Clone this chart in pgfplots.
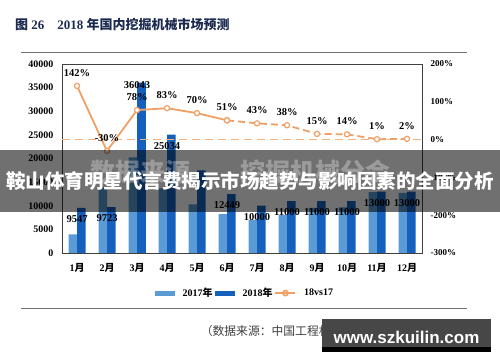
\documentclass[border=0pt]{standalone}
\usepackage{fontspec}
\setmainfont{Liberation Serif}
\newfontfamily\cjk{Noto Sans CJK SC}
\newfontfamily\wsans{Liberation Sans}
\usepackage{pgfplots}
\pgfplotsset{compat=1.18}
\definecolor{c17}{HTML}{5B9BD5}
\definecolor{c18}{HTML}{1560BD}
\definecolor{lor}{HTML}{EFA066}
\definecolor{lor2}{HTML}{F2B27E}
\definecolor{titlec}{HTML}{1C2A4F}
\newcommand{\yue}{{\cjk 月}}
\newcommand{\nian}{{\cjk 年}}
\pgfplotsset{lineleg/.style={legend image code/.code={\draw[##1, mark repeat=2, mark phase=2] plot coordinates {(0bp,0bp) (10bp,0bp) (20bp,0bp)};}}}
\pgfplotstableread{
x y lab
0 9547 9547
1 9723 9723
2 36043 {}
3 25034 25034
4 17500 {}
5 12449 12449
6 10000 10000
7 11000 11000
8 11000 11000
9 11000 11000
10 13000 13000
11 13000 13000
}\dataB
\begin{document}
\begin{tikzpicture}
\useasboundingbox (0bp,0bp) rectangle (500bp,362bp);
\fill[white] (0bp,0bp) rectangle (500bp,362bp);
\node[anchor=west, text=titlec, font=\bfseries\fontsize{13bp}{15bp}\selectfont, inner sep=0pt] at (15bp,337bp) {{\cjk 图} 26\quad 2018 {\cjk 年国内挖掘机械市场预测}};
\draw[black!55, line width=0.8bp] (21bp,309.5bp) -- (467bp,309.5bp);
\draw[black!55, line width=0.8bp] (21bp,54bp) -- (467bp,54bp);
\begin{axis}[
  at={(62bp,109bp)}, anchor=south west,
  scale only axis, width=360bp, height=189bp,
  xmin=-0.5, xmax=11.5, ymin=0, ymax=40000,
  ytick={0,5000,...,40000},
  xtick={0,...,11},
  xticklabels={1\yue,2\yue,3\yue,4\yue,5\yue,6\yue,7\yue,8\yue,9\yue,10\yue,11\yue,12\yue},
  major tick length=0pt,
  axis line style={draw=black!75, line width=0.8bp},
  /pgf/number format/assume math mode=true,
  /pgf/number format/1000 sep={},
  scaled y ticks=false,
  ticklabel style={font=\bfseries\fontsize{10bp}{12bp}\selectfont},
  yticklabel style={xshift=-5bp},
  xticklabel style={anchor=base, yshift=-19bp},
  legend style={at={(0.508,-0.212)}, anchor=center, draw=none, fill=none,
    font=\bfseries\fontsize{10bp}{12bp}\selectfont,
    legend columns=-1,
    /tikz/every even column/.append style={column sep=0bp},
    /tikz/every odd column/.append style={column sep=6bp}},
]
\addplot[ybar, bar width=8.5bp, bar shift=-4.25bp, fill=c17, draw=none,
  legend image code/.code={\fill[c17] (0bp,-2.5bp) rectangle (20bp,2.5bp);}]
  coordinates {(0,3945) (1,13890) (2,20249) (3,13680) (4,10300) (5,8244) (6,7000) (7,8000) (8,9565) (9,9649) (10,12871) (11,12745)};
\addlegendentry{2017\nian}
\addplot[ybar, bar width=8.5bp, bar shift=4.25bp, fill=c18, draw=none,
  legend image code/.code={\fill[c18] (0bp,-2.5bp) rectangle (20bp,2.5bp);},
  nodes near coords, point meta=explicit symbolic,
  every node near coord/.append style={anchor=center, yshift=-11bp, text=black,
     font=\bfseries\fontsize{10.5bp}{12bp}\selectfont}]
  table[x=x, y=y, meta=lab] {\dataB};
\addlegendentry{2018\nian}
\addplot[ybar, bar width=8.5bp, bar shift=4.25bp, fill=c18, draw=none, forget plot,
  nodes near coords, point meta=y,
  every node near coord/.append style={anchor=center, yshift=-2bp, text=black,
     font=\bfseries\fontsize{10.5bp}{12bp}\selectfont}]
  coordinates {(2,36043)};
\addlegendimage{lor, line width=1.6bp, mark=o, mark size=2.6bp, mark options={fill=white, draw=lor}, lineleg}
\addlegendentry{18vs17}
\end{axis}
\begin{axis}[
  at={(62bp,109bp)}, anchor=south west,
  scale only axis, width=360bp, height=189bp,
  xmin=-0.5, xmax=11.5, ymin=-300, ymax=200,
  ytick={-300,-200,...,200},
  axis x line=none, axis y line*=right,
  y axis line style={draw=black!75, line width=0.8bp},
  major tick length=0pt,
  /pgf/number format/assume math mode=true,
  yticklabel={\pgfmathprintnumber{\tick}\%},
  yticklabel style={xshift=5bp, font=\bfseries\fontsize{9bp}{11bp}\selectfont},
]
\addplot[lor2, dash pattern=on 8bp off 5bp, line width=1.8bp, forget plot] coordinates {(-0.5,0) (11.5,0)};
\addplot[lor, line width=1.8bp, mark=*, mark size=2.6bp, mark options={fill=white, draw=lor, solid, line width=1.2bp}]
  coordinates {(0,142) (1,-30) (2,78) (3,83) (4,70) (5,51)};
\addplot[lor, line width=1.8bp, dash pattern=on 7bp off 4bp, mark=*, mark size=2.6bp, mark options={fill=white, draw=lor, solid, line width=1.2bp}]
  coordinates {(5,51) (6,43) (7,38) (8,15) (9,14) (10,1) (11,2)};
\addplot[draw=none, mark=none, point meta=y,
  nodes near coords={\pgfmathprintnumber{\pgfplotspointmeta}\%},
  every node near coord/.append style={anchor=center, yshift=13bp, text=black,
     font=\bfseries\fontsize{10.5bp}{12bp}\selectfont}]
  coordinates {(0,142) (1,-30) (2,78) (3,83) (4,70) (5,51) (6,43) (7,38) (8,15) (9,14) (10,1) (11,2)};
\end{axis}
\node[text=black!75, font=\cjk\fontsize{11.8bp}{14bp}\selectfont, inner sep=0pt] at (336.5bp,31bp) {（数据来源：中国工程机械工业协会挖掘机械分会）};
% overlay banner
\fill[black, opacity=0.56] (0bp,150bp) rectangle (500bp,212bp);
\node[text=white, opacity=0.3, font=\cjk\bfseries\fontsize{25bp}{28bp}\selectfont, inner sep=0pt] at (140bp,190bp) {数据来源};
\node[text=white, opacity=0.3, font=\cjk\bfseries\fontsize{25bp}{28bp}\selectfont, inner sep=0pt] at (315bp,190bp) {挖掘机械分会};
\node[text=white, font=\cjk\bfseries\fontsize{19.5bp}{22bp}\selectfont, inner sep=0pt] at (250bp,180.5bp) {鞍山体育明星代言费揭示市场趋势与影响因素的全面分析};
% watermark box
\fill[black!72] (322bp,15bp) rectangle (491bp,43bp);
\fill[black] (322bp,10bp) rectangle (491bp,15bp);
\node[text=white, font=\wsans\bfseries\fontsize{17bp}{20bp}\selectfont, inner sep=0pt] at (406.5bp,25bp) {www.szkuilin.com};
\end{tikzpicture}
\end{document}
